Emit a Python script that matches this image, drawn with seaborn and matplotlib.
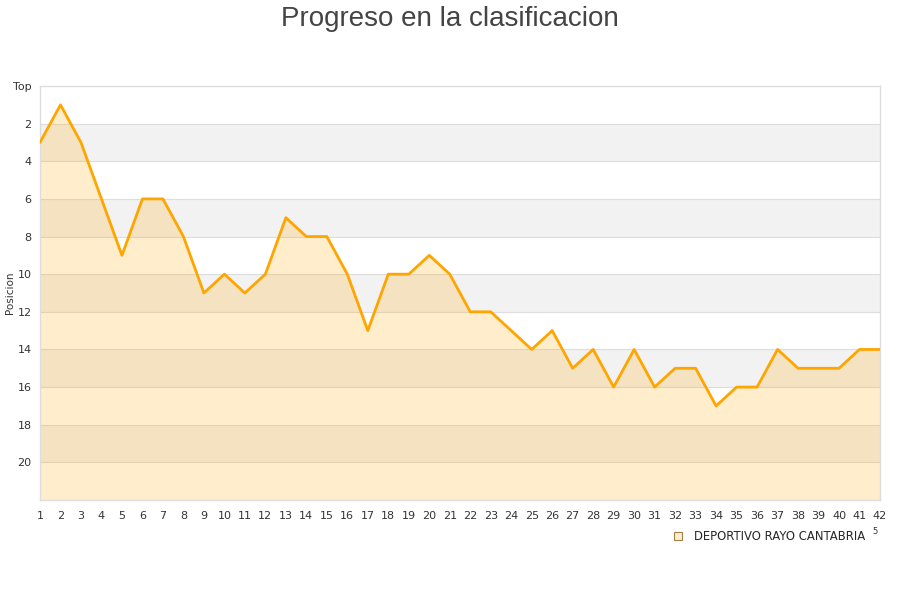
import numpy as np
import pandas as pd
import matplotlib
matplotlib.use("Agg")
import matplotlib.pyplot as plt
import seaborn as sns
from matplotlib.lines import Line2D

jornadas = list(range(1, 43))
posiciones = [3, 1, 3, 6, 9, 6, 6, 8, 11, 10,
              11, 10, 7, 8, 8, 10, 13, 10, 10, 9,
              10, 12, 12, 13, 14, 13, 15, 14, 16, 14,
              16, 15, 15, 17, 16, 16, 14, 15, 15, 15,
              14, 14]
y_ticks = [0, 2, 4, 6, 8, 10, 12, 14, 16, 18, 20]
y_labels = ["Top"] + [str(v) for v in y_ticks[1:]]
equipo = "DEPORTIVO RAYO CANTABRIA"

sns.set_style("white")
plt.rcParams['font.family'] = ['DejaVu Sans']

df = pd.DataFrame({"jornada": jornadas, "posicion": posiciones})

fig = plt.figure(figsize=(9, 6), dpi=100)
ax = fig.add_axes([40 / 900, 1 - 500 / 600, 840 / 900, 414 / 600])

# bandas grises alternas
for y0 in range(2, 22, 4):
    ax.axhspan(y0, y0 + 2, color="#f2f2f2", zorder=0, lw=0)
for yt in y_ticks[1:]:
    ax.axhline(yt, color="#dddddd", lw=0.8, zorder=0.5)

ax.fill_between(df["jornada"], df["posicion"], 22, color="#ffa500", alpha=0.2, lw=0, zorder=1)
sns.lineplot(data=df, x="jornada", y="posicion", color="#ffa500", lw=2.0, ax=ax, zorder=3)

ax.set_xlim(1, 42)
ax.set_ylim(22, 0)
ax.set_xticks(jornadas)
ax.set_xticklabels([str(j) for j in jornadas], fontsize=8, color="#333333")
ax.set_yticks(y_ticks)
ax.set_yticklabels(y_labels, fontsize=8, color="#333333")
ax.tick_params(length=0, pad=6)
ax.tick_params(axis="x", pad=8)
ax.set_xlabel("")
ax.set_ylabel("Posicion", fontsize=7.5, color="#333333")
ax.yaxis.set_label_coords(-25 / 840, 0.5)
for s in ax.spines.values():
    s.set_color("#dddddd")
    s.set_linewidth(1)

fig.text(0.5, 0.99, "Progreso en la clasificacion", ha="center", va="top",
         fontsize=20, color="#444444", family="Liberation Sans")

handle = Line2D([], [], marker="s", ls="", markersize=6,
                markerfacecolor="#ffedcc", markeredgecolor="#a0804a", markeredgewidth=0.8)
fig.legend([handle], [equipo], loc="center left", bbox_to_anchor=(666 / 900, 1 - 537 / 600),
           frameon=False, fontsize=8.4, handletextpad=0.4, borderpad=0, borderaxespad=0)
fig.text(875 / 900, 1 - 532 / 600, "5", fontsize=6, color="#333333", ha="center", va="center")

fig.savefig("out.png", dpi=100)
